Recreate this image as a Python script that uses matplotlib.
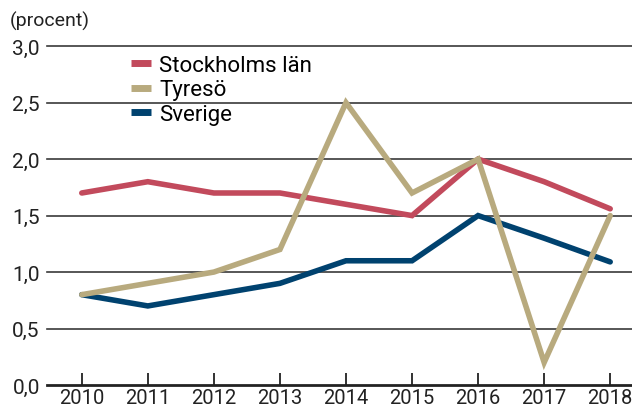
import matplotlib
matplotlib.use("Agg")
import matplotlib.pyplot as plt
from matplotlib.ticker import FuncFormatter

years = [2010, 2011, 2012, 2013, 2014, 2015, 2016, 2017, 2018]
stockholm = [1.7, 1.8, 1.7, 1.7, 1.6, 1.5, 2.0, 1.8, 1.56]
tyreso = [0.8, 0.9, 1.0, 1.2, 2.5, 1.7, 2.0, 0.2, 1.5]
sverige = [0.8, 0.7, 0.8, 0.9, 1.1, 1.1, 1.5, 1.3, 1.09]
series_names = ["Stockholms län", "Tyresö", "Sverige"]
yticks = [0.0, 0.5, 1.0, 1.5, 2.0, 2.5, 3.0]

plt.rcParams['font.family'] = ['Roboto', 'DejaVu Sans']

fig = plt.figure(figsize=(6.32, 4.14), dpi=100)
ax = fig.add_axes([0.074, 0.0676, 0.926, 0.8185])

c_sthlm = "#c24a5c"
c_tyr = "#b8aa7e"
c_sve = "#00426f"

ax.plot(years, stockholm, color=c_sthlm, lw=4, solid_capstyle='round', solid_joinstyle='miter', label=series_names[0], zorder=3)
ax.plot(years, tyreso, color=c_tyr, lw=4, solid_capstyle='round', solid_joinstyle='miter', label=series_names[1], zorder=3)
ax.plot(years, sverige, color=c_sve, lw=4, solid_capstyle='round', solid_joinstyle='miter', label=series_names[2], zorder=2)

ax.set_xlim(2009.47, 2018.33)
ax.set_ylim(0, 3.0)
ax.set_yticks(yticks)
ax.set_xticks(years)
ax.yaxis.set_major_formatter(FuncFormatter(lambda v, p: f"{v:.1f}".replace(".", ",")))

for y in yticks[1:]:
    ax.axhline(y, color="#3a3a3a", lw=1.2, zorder=1, clip_on=False)

for s in ["top", "right", "left"]:
    ax.spines[s].set_visible(False)
ax.spines["bottom"].set_color("#222222")
ax.spines["bottom"].set_linewidth(2)

ax.tick_params(axis='y', length=0, labelsize=15, pad=5, colors="#222222")
ax.tick_params(axis='x', direction='in', length=9, width=1.3, labelsize=14.5, pad=2, colors="#222222")

ax.text(-0.063, 1.075, "(procent)", transform=ax.transAxes, fontsize=14, ha='left', va='center', color="#222222")

leg = ax.legend(loc='upper left', bbox_to_anchor=(0.128, 1.0), frameon=False, fontsize=16,
                handlelength=0.9, handletextpad=0.4, labelspacing=0.15, borderaxespad=0)
for h in leg.get_lines():
    h.set_linewidth(5)
    h.set_solid_capstyle('butt')

fig.savefig("out.png", dpi=100)
